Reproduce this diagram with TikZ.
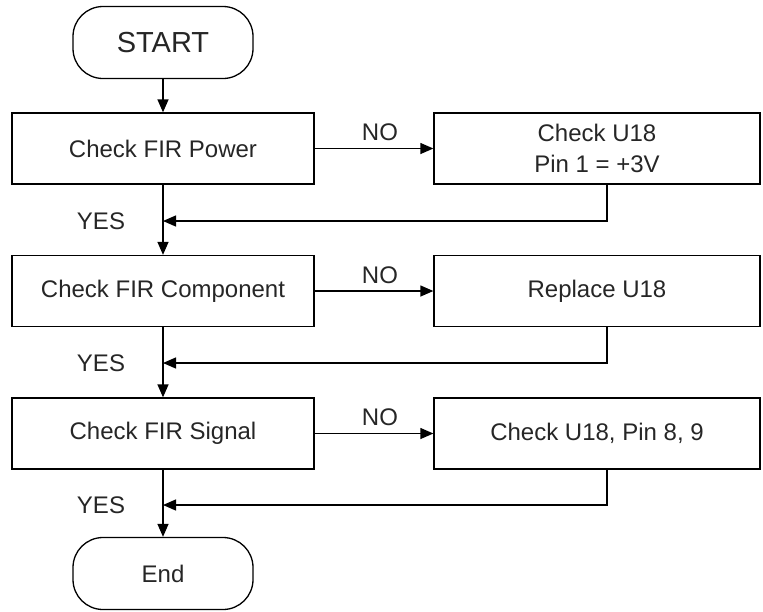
\documentclass[tikz,border=0pt]{standalone}
\usepackage{fontspec}
\setmainfont{Liberation Sans}
\usetikzlibrary{arrows.meta,calc}
\begin{document}
\begin{tikzpicture}[x=1pt,y=-1pt,
  every node/.style={font=\fontsize{24}{31}\selectfont, text=black!85},
  pill/.style={draw, line width=1.3pt, rounded corners=30pt, minimum width=180pt, minimum height=72pt, inner sep=0pt},
  procbox/.style={draw, line width=1.3pt, rectangle, inner sep=0pt, align=center},
  conn/.style={line width=1.3pt, -{Triangle[length=13pt,width=11pt]}},
  lbl/.style={inner sep=0pt}
]
\useasboundingbox (0,0) rectangle (763,611);
% nodes
\node[pill, font=\fontsize{29}{31}\selectfont] (start) at (163,42.5) {START};
\node[procbox, minimum width=302pt, minimum height=71pt] (b1) at (163,148.5) {Check FIR Power};
\node[procbox, minimum width=326pt, minimum height=71pt] (n1) at (597,148.5) {Check U18\\Pin 1 = +3V};
\node[procbox, minimum width=302pt, minimum height=71pt] (b2) at (163,291) {Check FIR Component};
\node[procbox, minimum width=326pt, minimum height=71pt] (n2) at (597,291) {Replace U18};
\node[procbox, minimum width=302pt, minimum height=71pt] (b3) at (163,433.5) {Check FIR Signal};
\node[procbox, minimum width=326pt, minimum height=71pt] (n3) at (597,433.5) {Check U18, Pin 8, 9};
\node[pill] (end) at (163,573.5) {End};
% junction coordinates
\coordinate (r1) at (607,221);
\coordinate (j1) at (163,221);
\coordinate (r2) at (607,363);
\coordinate (j2) at (163,363);
\coordinate (r3) at (607,505);
\coordinate (j3) at (163,505);
% connectors
\draw[conn] (start) -- (b1);
\draw[conn] (b1) -- (n1) node[lbl, pos=0.55, above=7pt] {NO};
\draw[conn] (b1) -- (b2);
\draw[conn] (n1.south -| r1) |- (j1);
\draw[conn] (b2) -- (n2) node[lbl, pos=0.55, above=7pt] {NO};
\draw[conn] (b2) -- (b3);
\draw[conn] (n2.south -| r2) |- (j2);
\draw[conn] (b3) -- (n3) node[lbl, pos=0.55, above=7pt] {NO};
\draw[conn] (b3) -- (end);
\draw[conn] (n3.south -| r3) |- (j3);
% YES labels
\node[lbl] (y1) at (101,221) {YES};
\node[lbl] (y2) at (101,363) {YES};
\node[lbl] (y3) at (101,505) {YES};
\end{tikzpicture}
\end{document}
